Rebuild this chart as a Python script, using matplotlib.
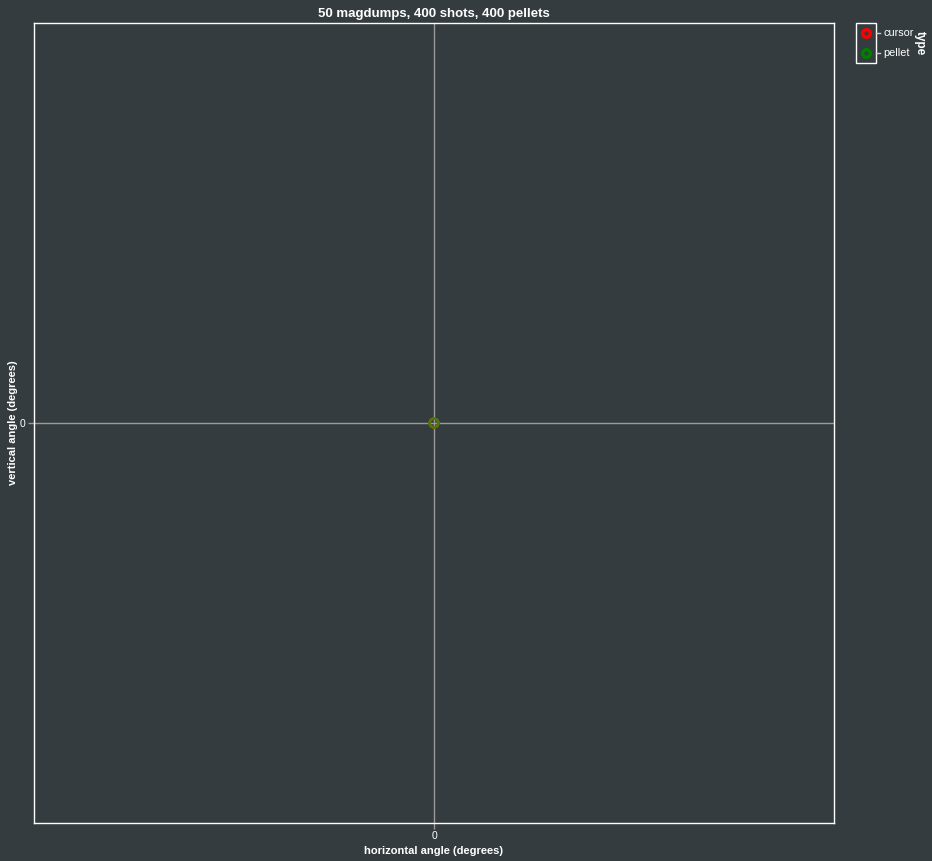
import matplotlib
matplotlib.use("Agg")
import matplotlib.pyplot as plt
from matplotlib.lines import Line2D
from matplotlib.patches import Rectangle

plt.rcParams['font.family'] = ['Liberation Sans', 'DejaVu Sans']

# Data: every shot and pellet landed at the origin
cursor_x = [0.0, 0.0, 0.0, 0.0]
cursor_y = [0.0, 0.0, 0.0, 0.0]
pellet_x = [0.0, 0.0, 0.0, 0.0]
pellet_y = [0.0, 0.0, 0.0, 0.0]
x_ticks = [0]
y_ticks = [0]
title = "50 magdumps, 400 shots, 400 pellets"

BG = "#353c3f"
W, H = 932, 861
fig = plt.figure(figsize=(W / 100, H / 100), dpi=100, facecolor=BG)
ax = fig.add_axes([34 / W, (H - 823) / H, 800 / W, 800 / H], facecolor=BG)

ax.set_xlim(-1, 1)
ax.set_ylim(-1, 1)
ax.set_xticks(x_ticks)
ax.set_yticks(y_ticks)
ax.set_xticklabels([str(t) for t in x_ticks])
ax.set_yticklabels([str(t) for t in y_ticks])
ax.grid(True, color="#9a9a9a", linewidth=1.0)
ax.set_axisbelow(True)
for s in ax.spines.values():
    s.set_color("white")
    s.set_linewidth(1.0)
ax.tick_params(colors="#9a9a9a", labelcolor="white", labelsize=7.5, length=4, width=1, pad=2)

ax.scatter(cursor_x, cursor_y, s=40, facecolors="none", edgecolors="#ff0000", linewidths=1.6, zorder=3)
ax.scatter(pellet_x, pellet_y, s=40, facecolors="none", edgecolors="#4a7a10", linewidths=1.6, zorder=4, alpha=0.9)

def fx(px):
    return px / W

def fy(py):
    return (H - py) / H

fig.text(fx(434), fy(851), "horizontal angle (degrees)", color="white", fontsize=8,
         fontweight="bold", ha="center", va="center")
fig.text(fx(13), fy(423), "vertical angle (degrees)", color="white", fontsize=8,
         fontweight="bold", ha="center", va="center", rotation=90)
fig.text(fx(434), fy(13.5), title, color="white", fontsize=9.5, fontweight="bold",
         ha="center", va="center")

# Legend drawn manually in figure coordinates
fig.patches.append(Rectangle((fx(856), fy(63)), 20 / W, 40 / H, transform=fig.transFigure,
                             facecolor="none", edgecolor="white", linewidth=1.0))
legend_items = [("cursor", "#ff0000", 33), ("pellet", "#008000", 53)]
for label, col, py in legend_items:
    fig.lines.append(Line2D([fx(866)], [fy(py)], transform=fig.transFigure, marker="o",
                            markersize=5.5, markerfacecolor="none", markeredgecolor=col,
                            markeredgewidth=2.4, linestyle="none"))
    fig.lines.append(Line2D([fx(876), fx(880)], [fy(py), fy(py)], transform=fig.transFigure,
                            color="#cccccc", linewidth=1))
    fig.text(fx(883), fy(py), label, color="white", fontsize=7.8, va="center", ha="left")
fig.text(fx(920), fy(43), "type", color="white", fontsize=8.5, fontweight="bold",
         rotation=-90, va="center", ha="center")

fig.savefig("out.png", dpi=100, facecolor=BG)
